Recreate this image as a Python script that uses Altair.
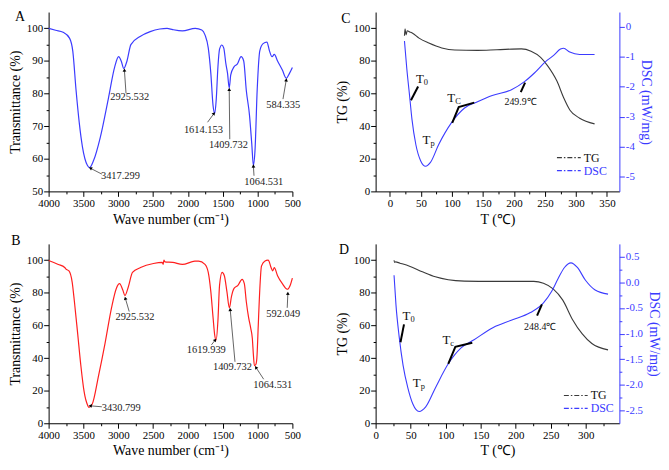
import altair as alt
import pandas as pd

FONT = "Liberation Serif"
A_COLOR = "#3b3bff"
B_COLOR = "#ff1f1f"
TG_COLOR = "#3a3a3a"
DSC_COLOR = "#3b3bff"

# ---------------- Panel A (FTIR) ----------------
a_wave = [4000, 3900, 3792, 3700, 3653, 3606, 3560, 3514, 3444, 3412, 3352, 3259, 3143, 3051, 2995, 2958,
          2921, 2875, 2819, 2680, 2542, 2403, 2300, 2218, 2079, 1894, 1801, 1755, 1708, 1671, 1639, 1615,
          1593, 1569, 1546, 1514, 1486, 1454, 1431, 1407, 1385, 1338, 1292, 1236, 1199, 1162, 1116, 1083,
          1060, 1037, 1005, 968, 921, 866, 829, 792, 760, 713, 644, 588, 542, 500]
a_trans = [100, 99.4, 98.8, 97, 93, 81, 71, 63.6, 58, 57.3, 59.6, 66.5, 78.4, 88.2, 91.3, 90,
           87.7, 90, 95, 97.6, 99, 99.8, 100, 99.6, 99.2, 100, 99.5, 98, 94, 86.2, 76.3, 73.9,
           78.3, 88.2, 93.6, 94.9, 94, 89, 86.2, 81.7, 85.7, 88.2, 89, 91.3, 90, 81, 73.4, 64.5,
           58, 62.5, 81.3, 93.1, 95.3, 95.8, 93.1, 91.3, 92, 90, 87.2, 84.7, 86.2, 88]
a_peak_text = ["3417.299", "2925.532", "1614.153", "1409.732", "1064.531", "584.335"]
a_text_w = [2969, 2836, 1778, 1419, 910, 632]
a_text_t = [54.8, 78.8, 68.9, 64.3, 53.0, 76.6]
a_arrow_w0 = [3236, 2889, 1718, 1399, 1051, 635]
a_arrow_t0 = [55.3, 80.1, 71.2, 66.0, 54.8, 78.3]
a_arrow_w1 = [3400, 2912, 1625, 1407, 1060, 588]
a_arrow_t1 = [57.1, 87.2, 73.9, 81.3, 57.8, 84.2]
a_arrow_angle = [297, 356, 37, 359, 356, 10]

# ---------------- Panel B (FTIR) ----------------
b_wave = [4000, 3861, 3769, 3750, 3708, 3662, 3630, 3583, 3537, 3491, 3440, 3421, 3375, 3282, 3190, 3097,
          3028, 2981, 2935, 2905, 2856, 2796, 2680, 2495, 2370, 2355, 2345, 2330, 2218, 2079, 1900, 1847,
          1755, 1708, 1671, 1639, 1615, 1595, 1569, 1546, 1509, 1477, 1440, 1405, 1375, 1338, 1282, 1222,
          1190, 1162, 1129, 1097, 1075, 1060, 1045, 1025, 1010, 990, 976, 944, 898, 850, 837, 806, 782,
          760, 713, 644, 575, 528, 500]
b_trans = [99.8, 97.4, 95.5, 94.5, 93.5, 86.6, 74.7, 55, 35.3, 19.5, 11, 9.7, 11.6, 29.4, 49, 70.8,
           82.7, 85.6, 81.7, 78.3, 83.6, 92.5, 95.5, 98, 98.7, 97.5, 100, 99, 98.7, 97.4, 99.4, 99.4,
           97.4, 92.5, 80.7, 64.9, 54, 51, 63, 84.6, 92.5, 90.5, 80.7, 70.8, 77.7, 82.7, 84.6, 88.2,
           85.6, 74.7, 64.9, 58, 52, 42, 35.3, 36, 40, 60, 74.7, 96.4, 99.4, 100, 99.5, 95.5, 93.5,
           95.5, 90.5, 85.6, 82.2, 85, 89]
b_peak_text = ["3430.799", "2925.532", "1619.939", "1409.732", "1064.531", "592.049"]
b_text_w = [2958, 2761, 1736, 1361, 782, 632]
b_text_t = [9.6, 64.9, 45.1, 34.3, 23.5, 67.3]
b_arrow_w0 = [3236, 2843, 1662, 1324, 912, 574]
b_arrow_t0 = [10.1, 68.5, 48.1, 37.7, 27.0, 70.8]
b_arrow_w1 = [3403, 2899, 1607, 1393, 1024, 565]
b_arrow_t1 = [10.7, 76.7, 51.1, 69.8, 34.3, 79.7]
b_arrow_angle = [275, 344, 39, 355, 327, 2]

# ---------------- Panel C (TG / DSC) ----------------
c_tg_temp = [23.5, 24.5, 26, 28, 32, 36.6, 47, 62.8, 83.7, 104.7, 141, 172.7, 212, 227.6, 243, 253.8,
             269.5, 280, 290.4, 306, 330]
c_tg = [95.5, 99.8, 96, 98.5, 97.8, 97, 94, 91, 88, 86.7, 86.5, 86.9, 87.4, 86, 82.2, 77.3,
        67.5, 57.6, 49.8, 44.9, 41.4]
c_dsc_temp = [23.5, 27.2, 31.4, 35.6, 41.9, 49.7, 57.6, 65.4, 78.5, 99.4, 120.4, 141.3, 165, 196, 217,
              233, 251, 264, 275, 280, 290, 306, 330]
c_dsc = [-0.47, -1.38, -2.23, -3.09, -3.94, -4.48, -4.66, -4.53, -3.94, -3.2, -2.71, -2.5, -2.29, -2.1,
         -1.83, -1.54, -1.16, -0.95, -0.74, -0.71, -0.84, -0.92, -0.92]
c_seg_group = ["t0", "t0", "tc", "tc", "tc", "te", "te"]
c_seg_temp = [34, 45.5, 100.5, 111, 136, 211, 218]
c_seg_dsc = [-2.45, -1.99, -3.21, -2.68, -2.53, -2.18, -1.86]
c_mark_sub = ["0", "C", "p"]
c_mark_temp = [48.4, 99, 58.9]
c_mark_dsc = [-1.75, -2.39, -3.78]
c_temp_label = ["249.9℃"]
c_temp_label_t = [210.7]
c_temp_label_v = [-2.5]

# ---------------- Panel D (TG / DSC) ----------------
d_tg_temp = [26.3, 27, 28.5, 34.6, 48.4, 66.8, 85.3, 103.7, 126.8, 168, 225.8, 239.6, 253.4, 267.2,
             281, 295, 308.7, 331.8]
d_tg = [100, 98.6, 99, 98.2, 96.3, 92.9, 89.8, 88, 87.2, 87, 87, 85.8, 82.4, 75.5, 63.7, 54.8, 48.9, 45]
d_dsc_temp = [26.3, 29, 33.6, 39.2, 46, 53, 62.2, 71.5, 85.3, 103.7, 122, 140.5, 168, 193.6, 221,
              239.6, 251.2, 260.4, 269.6, 278.9, 288, 299.6, 313.4, 331.8]
d_dsc = [0.14, -0.43, -1.06, -1.62, -2.06, -2.37, -2.52, -2.43, -2.06, -1.59, -1.28, -1.12, -0.88,
         -0.74, -0.59, -0.4, -0.18, 0.07, 0.29, 0.38, 0.29, 0.04, -0.15, -0.23]
d_seg_group = ["t0", "t0", "tc", "tc", "tc", "te", "te"]
d_seg_temp = [35.5, 40.5, 103.7, 113.8, 138, 230.5, 237.4]
d_seg_dsc = [-1.17, -0.82, -1.59, -1.26, -1.18, -0.65, -0.43]
d_mark_sub = ["0", "c", "p"]
d_mark_temp = [44, 101, 58.8]
d_mark_dsc = [-0.65, -1.13, -1.96]
d_temp_label = ["248.4℃"]
d_temp_label_t = [235]
d_temp_label_v = [-0.87]

W = 246
H = 181
MINUS_FIX = "replace(datum.label, '\u2212', '-')"


def tick_size(test):
    return {"condition": {"test": test, "value": 5}, "value": 2.5}


def letter_layer(letter, dx, dy):
    return alt.Chart(pd.DataFrame({"s": [letter]})).mark_text(
        font=FONT, fontSize=14, align="center", baseline="middle", color="black"
    ).encode(x=alt.value(dx), y=alt.value(dy), text="s:N")


def ftir_panel(wave, trans, color, ydom, yvals, ytest, texts, tw, tt, w0, t0, w1, t1, ang,
               letter, ldx, ldy):
    xscale = alt.Scale(domain=[4000, 500], nice=False, zero=False)
    yscale = alt.Scale(domain=ydom, nice=False, zero=False)
    xaxis = alt.Axis(values=list(range(4000, 499, -250)), format="d",
                     labelExpr="datum.value % 500 === 0 ? datum.label : ''",
                     tickSize=tick_size("datum.value % 500 === 0"),
                     title="Wave number (cm⁻¹)", labelFlush=False, labelOverlap=False)
    yaxis = alt.Axis(values=yvals, format="d",
                     labelExpr=f"({ytest}) ? datum.label : ''",
                     tickSize=tick_size(ytest),
                     title="Transmittance (%)", labelOverlap=False)
    X = alt.X("w:Q", scale=xscale, axis=xaxis)
    Y = alt.Y("t:Q", scale=yscale, axis=yaxis)

    line_df = pd.DataFrame({"w": wave, "t": trans, "i": list(range(len(wave)))})
    line = alt.Chart(line_df).mark_line(color=color, strokeWidth=1.2, interpolate="monotone").encode(
        x=X, y=Y, order="i:Q")

    txt_df = pd.DataFrame({"w": tw, "t": tt, "s": texts})
    txt = alt.Chart(txt_df).mark_text(font=FONT, fontSize=10.5, color="#222222", align="center",
                                      baseline="middle").encode(x=X, y=Y, text="s:N")

    arr_df = pd.DataFrame({"w": w0, "t": t0, "w1": w1, "t1": t1})
    rules = alt.Chart(arr_df).mark_rule(color="#222222", strokeWidth=0.7).encode(
        x=X, y=Y, x2="w1:Q", y2="t1:Q")

    head_df = pd.DataFrame({"w": w1, "t": t1, "a": ang})
    heads = alt.Chart(head_df).mark_point(shape="triangle-up", filled=True, size=14, color="black",
                                          opacity=1).encode(
        x=X, y=Y, angle=alt.Angle("a:Q", scale=None))

    return alt.layer(line, rules, heads, txt, letter_layer(letter, ldx, ldy)).properties(width=W, height=H)


def thermal_panel(tg_temp, tg, dsc_temp, dsc, xdom, xvals, dsc_dom, dsc_vals, dsc_fmt, dsc_test,
                  seg_g, seg_t, seg_v, sub, mk_t, mk_v, tl, tl_t, tl_v, legend_xy, letter, ldx, ldy):
    xscale = alt.Scale(domain=xdom, nice=False, zero=False)
    xaxis = alt.Axis(values=xvals, format="d",
                     labelExpr="datum.value % 50 === 0 ? datum.label : ''",
                     tickSize=tick_size("datum.value % 50 === 0"),
                     title="T (℃)", labelFlush=False, labelOverlap=False)
    X = alt.X("T:Q", scale=xscale, axis=xaxis)

    tg_axis = alt.Axis(values=list(range(0, 101, 10)), format="d",
                       labelExpr="datum.value % 20 === 0 ? datum.label : ''",
                       tickSize=tick_size("datum.value % 20 === 0"),
                       title="TG (%)", labelOverlap=False)
    Ytg = alt.Y("v:Q", scale=alt.Scale(domain=[0, 110], nice=False, zero=False), axis=tg_axis)

    dsc_axis = alt.Axis(orient="right", values=dsc_vals, format=dsc_fmt,
                        labelExpr=f"({dsc_test}) ? {MINUS_FIX} : ''",
                        tickSize=tick_size(dsc_test),
                        title="DSC (mW/mg)", labelOverlap=False,
                        domainColor=DSC_COLOR, tickColor=DSC_COLOR, labelColor=DSC_COLOR,
                        titleColor=DSC_COLOR)
    Ydsc = alt.Y("v:Q", scale=alt.Scale(domain=dsc_dom, nice=False, zero=False), axis=dsc_axis)

    color = alt.Color("s:N", scale=alt.Scale(domain=["TG", "DSC"], range=[TG_COLOR, DSC_COLOR]),
                      legend=alt.Legend(orient="none", legendX=legend_xy[0], legendY=legend_xy[1],
                                        direction="vertical", title=None,
                                        symbolType="M-3,0H3", symbolSize=64, symbolStrokeWidth=1.2,
                                        symbolDash=[5, 2, 1.5, 2], labelFont=FONT, labelFontSize=12,
                                        labelOffset=9, rowPadding=1, padding=0,
                                        labelColor=alt.ExprRef(
                                            expr=f"datum.label === 'DSC' ? '{DSC_COLOR}' : '#111111'")))

    tg_df = pd.DataFrame({"T": tg_temp, "v": tg, "s": ["TG"] * len(tg)})
    dsc_df = pd.DataFrame({"T": dsc_temp, "v": dsc, "s": ["DSC"] * len(dsc)})
    tg_line = alt.Chart(tg_df).mark_line(strokeWidth=1.1, interpolate="monotone").encode(
        x=X, y=Ytg, color=color)
    dsc_line = alt.Chart(dsc_df).mark_line(strokeWidth=1.1, interpolate="monotone").encode(
        x=X, y=Ydsc, color=color)

    seg_df = pd.DataFrame({"T": seg_t, "v": seg_v, "g": seg_g, "o": list(range(len(seg_t)))})
    segs = alt.Chart(seg_df).mark_line(color="black", strokeWidth=2).encode(
        x=X, y=Ydsc, detail="g:N", order="o:Q")

    mk_df = pd.DataFrame({"T": mk_t, "v": mk_v, "m": ["T"] * len(mk_t), "sub": sub})
    main_t = alt.Chart(mk_df).mark_text(font=FONT, fontSize=13, align="center", baseline="middle",
                                        color="#111111").encode(x=X, y=Ydsc, text="m:N")
    sub_t = alt.Chart(mk_df).mark_text(font=FONT, fontSize=8.5, align="left", baseline="middle",
                                       dx=4, dy=3, color="#111111").encode(x=X, y=Ydsc, text="sub:N")

    tl_df = pd.DataFrame({"T": tl_t, "v": tl_v, "s2": tl})
    tl_text = alt.Chart(tl_df).mark_text(font=FONT, fontSize=10, align="center", baseline="middle",
                                         color="#111111").encode(x=X, y=Ydsc, text="s2:N")

    left = alt.layer(tg_line, letter_layer(letter, ldx, ldy))
    right = alt.layer(dsc_line, segs, main_t, sub_t, tl_text)
    return alt.layer(left, right).resolve_scale(y="independent").properties(width=W, height=H)


panel_a = ftir_panel(a_wave, a_trans, A_COLOR, [50, 105], list(range(50, 101, 5)),
                     "datum.value % 10 === 0", a_peak_text, a_text_w, a_text_t,
                     a_arrow_w0, a_arrow_t0, a_arrow_w1, a_arrow_t1, a_arrow_angle, "A", -29, 5)
panel_b = ftir_panel(b_wave, b_trans, B_COLOR, [0, 110], list(range(0, 101, 10)),
                     "datum.value % 20 === 0", b_peak_text, b_text_w, b_text_t,
                     b_arrow_w0, b_arrow_t0, b_arrow_w1, b_arrow_t1, b_arrow_angle, "B", -33, -3)

c_dsc_vals = [-5, -4.5, -4, -3.5, -3, -2.5, -2, -1.5, -1, -0.5, 0]
d_dsc_vals = [-2.5, -2.25, -2, -1.75, -1.5, -1.25, -1, -0.75, -0.5, -0.25, 0, 0.25, 0.5]

panel_c = thermal_panel(c_tg_temp, c_tg, c_dsc_temp, c_dsc, [-23, 370], list(range(0, 351, 25)),
                        [-5.5, 0.5], c_dsc_vals, "d", "datum.value % 1 === 0",
                        c_seg_group, c_seg_temp, c_seg_dsc, c_mark_sub, c_mark_temp, c_mark_dsc,
                        c_temp_label, c_temp_label_t, c_temp_label_v, (189, 141), "C", -30, 7)
panel_d = thermal_panel(d_tg_temp, d_tg, d_dsc_temp, d_dsc, [0, 348], list(range(0, 326, 25)),
                        [-2.75, 0.75], d_dsc_vals, ".1f", "datum.value * 2 % 1 === 0",
                        d_seg_group, d_seg_temp, d_seg_dsc, d_mark_sub, d_mark_temp, d_mark_dsc,
                        d_temp_label, d_temp_label_t, d_temp_label_v, (196, 147), "D", -32, 6)

chart = alt.concat(panel_a, panel_c, panel_b, panel_d, columns=2,
                   spacing={"row": 8, "column": 34}, align="each").resolve_scale(
    color="independent"
).properties(
    padding=0, background="white"
).configure_view(stroke=None).configure_axis(
    labelFont=FONT, titleFont=FONT, labelFontSize=11, titleFontSize=14, titleFontWeight="normal",
    grid=False, domainColor="black", tickColor="black", labelColor="black", titleColor="black",
    labelPadding=1, titlePadding=4, domainWidth=1, tickWidth=1
)

chart.save("out.html", embed_options={"renderer": "svg", "actions": False})
